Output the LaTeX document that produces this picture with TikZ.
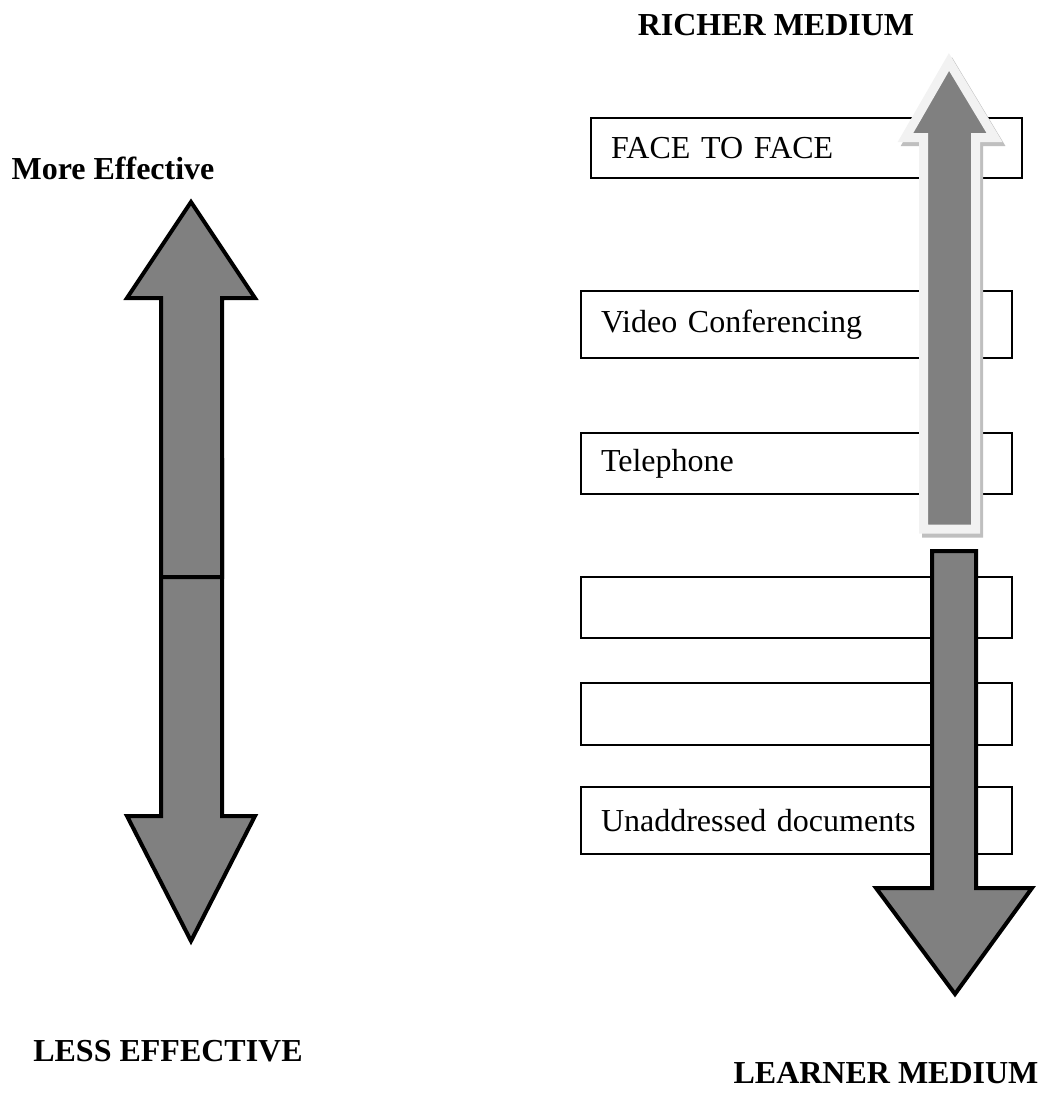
\documentclass[tikz,border=0pt]{standalone}
\usepackage{fontspec}
\setmainfont{Liberation Serif}
\usepackage{tikz}

\begin{document}
\begin{tikzpicture}[x=1pt,y=-1pt,
  medbox/.style={draw,line width=2pt,fill=white,minimum width=431pt,minimum height=62pt,
    text width=391pt,inner xsep=20pt,align=left,font=\fontsize{32}{38}\selectfont},
  heading/.style={font=\fontsize{32}{38}\selectfont\bfseries},
  blockarrow/.style={fill=black!50,draw=black,line width=4pt,line join=miter}]
\useasboundingbox (0,0) rectangle (1049,1108);

\node[heading] (richer) at (776,25) {RICHER MEDIUM};
\node[heading] (moreeff) at (113,168) {More Effective};
\node[heading] (lesseff) at (168,1051) {LESS EFFECTIVE};
\node[heading] (learner) at (886,1073) {LEARNER MEDIUM};

% media, richest first
\node[medbox,minimum width=431pt,minimum height=60pt] (facetoface) at (806.5,148) {FACE TO FACE};
\node[medbox,minimum height=67pt] (video) at (796.5,324.5) {Video Conferencing};
\node[medbox,minimum height=61pt] (phone) at (796.5,463.5) {Telephone};
\node[medbox,minimum height=61pt] (blankA) at (796.5,607.5) {};
\node[medbox,minimum height=62pt] (blankB) at (796.5,714) {};
\node[medbox,minimum height=67pt] (unaddressed) at (796.5,820.5) {Unaddressed documents};

% left double arrow (down part first, up part on top)
\draw[blockarrow] (161,460) -- (161,816) -- (127,816) -- (191,941)
  -- (255,816) -- (222,816) -- (222,460) -- cycle;
\draw[blockarrow] (161,577) -- (161,298) -- (127,298) -- (191,202)
  -- (255,298) -- (222,298) -- (222,577) -- cycle;

% richer: light outlined arrow with shadow
\draw[fill=black!25,draw=black!25,line width=9pt,line join=miter,shift={(3,4)}]
  (923.5,529) -- (923.5,137.5) -- (905.5,137.5) -- (949,62)
  -- (994.5,137.5) -- (975.5,137.5) -- (975.5,529) -- cycle;
\draw[fill=black!50,draw=black!5,line width=9pt,line join=miter]
  (923.5,529) -- (923.5,137.5) -- (905.5,137.5) -- (949,62)
  -- (994.5,137.5) -- (975.5,137.5) -- (975.5,529) -- cycle;

% learner: dark outlined arrow
\draw[blockarrow] (932,551) -- (932,888) -- (876,888) -- (955,994)
  -- (1032,888) -- (976,888) -- (976,551) -- cycle;

\end{tikzpicture}
\end{document}
